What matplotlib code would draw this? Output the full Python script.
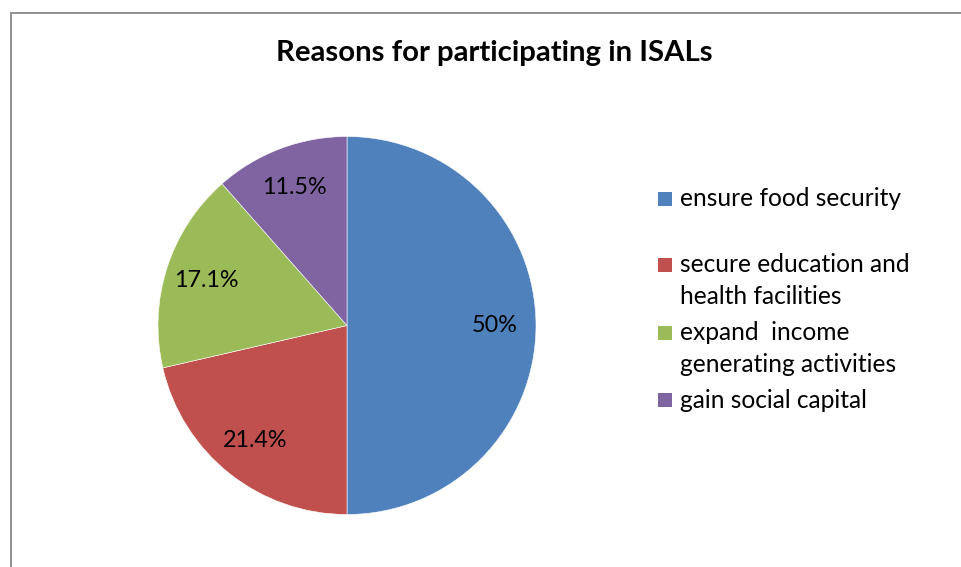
import matplotlib
matplotlib.use('Agg')
import matplotlib.pyplot as plt
from matplotlib.patches import Rectangle

# ---- data ----
title = 'Reasons for participating in ISALs'
categories = ['ensure food security',
              'secure education and\nhealth facilities',
              'expand  income\ngenerating activities',
              'gain social capital']
values = [50.0, 21.4, 17.1, 11.5]
value_labels = ['50%', '21.4%', '17.1%', '11.5%']
colors = ['#4F81BD', '#C0504D', '#9BBB59', '#8064A2']

# ---- layout ----
W, H = 962, 567
plt.rcParams['font.family'] = ['Lato', 'DejaVu Sans']
fig = plt.figure(figsize=(W / 100, H / 100), dpi=100)


def fx(px):
    return px / W


def fy(py):
    return 1 - py / H


renderer = fig.canvas.get_renderer()


def fit_width(t, target_px):
    w = t.get_window_extent(renderer).width
    t.set_fontsize(t.get_fontsize() * target_px / w)


# chart border (left and top edges visible; rest cropped)
fig.patches.append(Rectangle((fx(11), -0.2), 1.3, fy(13) + 0.2,
                             transform=fig.transFigure, fill=False,
                             edgecolor='#878787', linewidth=1.3))

# title
tt = fig.text(fx(494.5), fy(61), title, ha='center', va='baseline',
              fontsize=20, fontweight='bold', color='black')
fit_width(tt, 437)

# pie
cx, cy, r = 347, 325.5, 189
ax = fig.add_axes([fx(cx - r), fy(cy + r), 2 * r / W, 2 * r / H])
wedges, texts, autotexts = ax.pie(
    values, colors=colors, startangle=90, counterclock=False,
    autopct=lambda p: '', pctdistance=0.78, radius=1,
    wedgeprops=dict(edgecolor='white', linewidth=0.4))
ax.set_xlim(-1, 1)
ax.set_ylim(-1, 1)
ax.set_aspect('equal')
for t, lab in zip(autotexts, value_labels):
    t.set_text(lab)
    t.set_fontsize(16)
    t.set_color('black')
ref = autotexts[3]
fit_width(ref, 65)
for t in autotexts:
    t.set_fontsize(ref.get_fontsize())

# legend (manual, Excel-style)
sq_centers = [198.5, 265, 333, 400]
sq = 14
line_gap = 31.5
legend_texts = []
for cat, col, yc in zip(categories, colors, sq_centers):
    fig.patches.append(Rectangle((fx(658), fy(yc + sq / 2)), sq / W, sq / H,
                                 transform=fig.transFigure, facecolor=col,
                                 edgecolor='none'))
    for i, line in enumerate(cat.split('\n')):
        lt = fig.text(fx(680), fy(yc + 7.5 + i * line_gap), line,
                      ha='left', va='baseline', fontsize=16, color='black')
        legend_texts.append(lt)
probe = legend_texts[1]
fit_width(probe, 231)
for lt in legend_texts:
    lt.set_fontsize(probe.get_fontsize())

fig.savefig('out.png', dpi=100, facecolor='white')
